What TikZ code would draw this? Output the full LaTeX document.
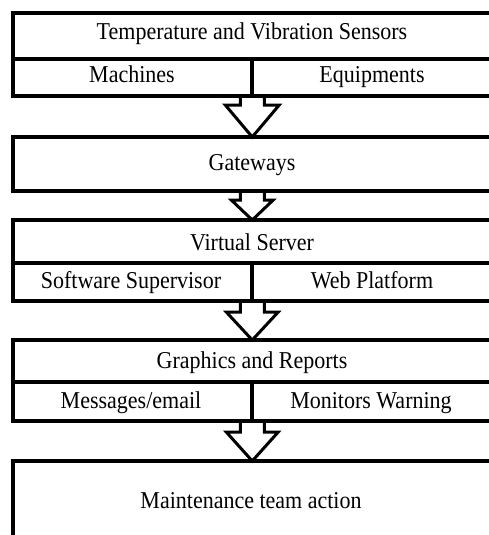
\documentclass[tikz,border=0pt]{standalone}
\usepackage{fontspec}
\setmainfont{Liberation Serif}
\usetikzlibrary{calc}
\tikzset{
  box/.style={draw, line width=4pt, inner sep=0pt, outer sep=0pt, minimum width=479.5pt},
  divider/.style={line width=3.5pt},
  txt/.style={anchor=base, inner sep=0pt, font=\fontsize{22}{26}\selectfont},
  flow/.style={draw, line width=3pt, line join=miter},
}
% slightly tall lettering
\newcommand\tall[1]{\scalebox{1}[1.1]{#1}}
% hollow block arrow: from, to, shoulder depth, head half-width
\newcommand\flowarrow[4]{%
  \draw[flow] ($(#1.south)+(-12,0)$) -- ($(#1.south)+(-12,#3)$)
    -- ($(#1.south)+(-#4,#3)$) -- (#2.north) -- ($(#1.south)+(#4,#3)$)
    -- ($(#1.south)+(12,#3)$) -- ($(#1.south)+(12,0)$);}
\begin{document}
\begin{tikzpicture}[x=1pt, y=-1pt]
\useasboundingbox (0,0) rectangle (488,535);

% boxes
\node[box, minimum height=82.5pt] (b1) at (252.25,54.75) {};
\node[box, minimum height=54pt]   (b2) at (252.25,164) {};
\node[box, minimum height=81pt]   (b3) at (252.25,260.5) {};
\node[box, minimum height=81pt]   (b4) at (252.25,380.5) {};
\node[box, minimum height=114pt]  (b5) at (252.25,518) {};

% inner dividers
\draw[divider] (12.5,59) -- (492,59);
\draw[divider] (252,59) -- (252,96);
\draw[divider] (12.5,263) -- (492,263);
\draw[divider] (252,263) -- (252,301);
\draw[divider] (12.5,382) -- (492,382);
\draw[divider] (252,382) -- (252,421);

% texts
\node[txt] (sensors)  at (252,40)  {\tall{Temperature and Vibration Sensors}};
\node[txt] (machines) at (132,82)  {\tall{Machines}};
\node[txt] (equip)    at (372,82)  {\tall{Equipments}};
\node[txt] (gateways) at (252,170) {\tall{Gateways}};
\node[txt] (vserver)  at (252,250) {\tall{Virtual Server}};
\node[txt] (softsup)  at (131,288) {\tall{Software Supervisor}};
\node[txt] (webplat)  at (372,288) {\tall{Web Platform}};
\node[txt] (graphics) at (252,368) {\tall{Graphics and Reports}};
\node[txt] (messages) at (131,408) {\tall{Messages/email}};
\node[txt] (monitors) at (371,408) {\tall{Monitors Warning}};
\node[txt] (maint)    at (251,508) {\tall{Maintenance team action}};

% flow arrows
\flowarrow{b1}{b2}{9}{27}
\flowarrow{b2}{b3}{9}{21}
\flowarrow{b3}{b4}{11}{26}
\flowarrow{b4}{b5}{11}{26}
\end{tikzpicture}
\end{document}
